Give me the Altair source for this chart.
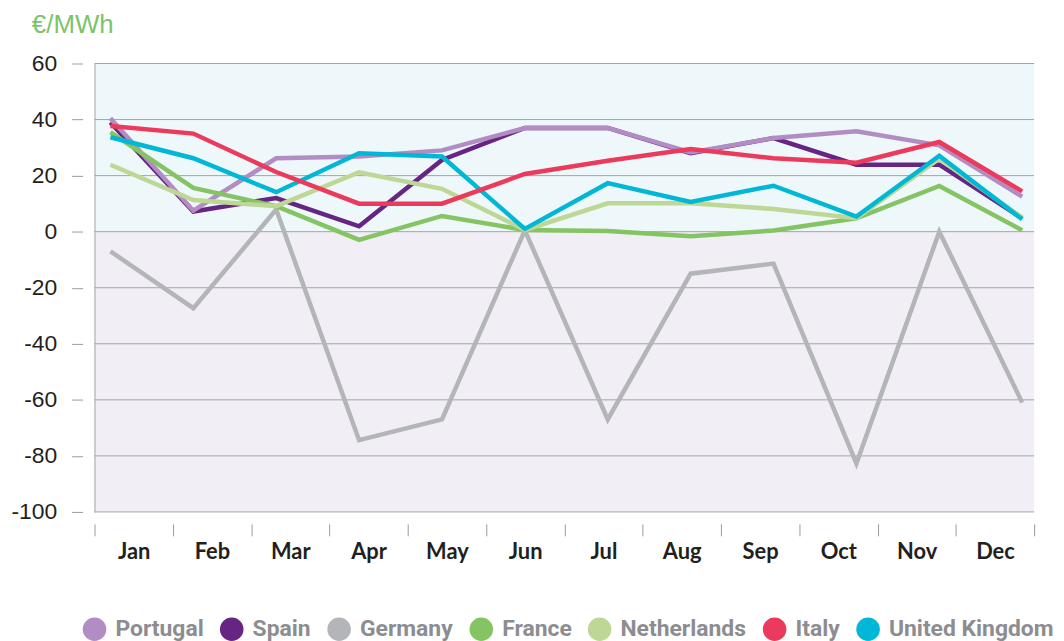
import altair as alt
import pandas as pd

months = ["Jan", "Feb", "Mar", "Apr", "May", "Jun", "Jul", "Aug", "Sep", "Oct", "Nov", "Dec"]
countries = ["Portugal", "Spain", "Germany", "France", "Netherlands", "Italy", "United Kingdom"]
colors = ["#b28dc4", "#662483", "#b3b5b8", "#85c462", "#bdd795", "#ec3a5c", "#00b8d6"]

portugal = [40.5, 7.5, 26.2, 26.8, 29.0, 37.0, 37.0, 28.3, 33.4, 35.8, 30.8, 12.5]
spain = [39.0, 7.2, 12.0, 1.9, 25.6, 37.0, 37.0, 28.0, 33.4, 23.9, 23.9, 4.8]
germany = [-7.0, -27.3, 7.9, -74.4, -67.0, 0.5, -67.0, -15.0, -11.4, -82.7, 0.0, -61.0]
france = [35.5, 15.6, 9.1, -2.9, 5.6, 0.6, 0.2, -1.6, 0.4, 4.8, 16.3, 0.5]
netherlands = [23.9, 11.3, 9.1, 21.2, 15.3, 0.6, 10.1, 10.1, 8.1, 4.8, 26.0, 5.0]
italy = [37.7, 35.0, 21.3, 10.0, 10.0, 20.6, 25.3, 29.5, 26.2, 24.6, 32.0, 14.4]
uk = [33.7, 26.2, 14.1, 28.0, 26.8, 1.0, 17.3, 10.6, 16.4, 5.4, 27.1, 4.4]

y_ticks = [60, 40, 20, 0, -20, -40, -60, -80, -100]
bands_lo = [0, -100]
bands_hi = [60, 0]
band_colors = ["#eef7fa", "#f1eff5"]

series = {
    "Portugal": portugal, "Spain": spain, "Germany": germany, "France": france,
    "Netherlands": netherlands, "Italy": italy, "United Kingdom": uk,
}
draw_order = ["Germany", "Spain", "Portugal", "France", "Netherlands", "United Kingdom", "Italy"]

W, H = 945, 451
YDOM = [-100, 60]
XDOM = [-0.192, 11.144]
GRID = "#a3a3a8"

bg_df = pd.DataFrame({"lo": bands_lo, "hi": bands_hi, "c": band_colors})
bg = alt.Chart(bg_df).mark_rect().encode(
    y=alt.Y("lo:Q", scale=alt.Scale(domain=YDOM, nice=False, zero=False),
            axis=alt.Axis(orient="left", offset=0, domain=True, domainColor=GRID, domainWidth=1,
                          ticks=False, labels=False, grid=False, title=None, zindex=1)),
    y2="hi:Q",
    fill=alt.Fill("c:N", scale=None),
)

grid_df = pd.DataFrame({"v": y_ticks})
grid = alt.Chart(grid_df).mark_rule(color=GRID, strokeWidth=1).encode(
    y=alt.Y("v:Q", scale=alt.Scale(domain=YDOM, nice=False, zero=False), axis=None)
)

month_df = pd.DataFrame({"m": months})
month_axis = alt.Chart(month_df).mark_point(opacity=0).encode(
    x=alt.X("m:O", sort=months,
            scale=alt.Scale(type="band", domain=months, paddingInner=0, paddingOuter=0),
            axis=alt.Axis(orient="bottom", offset=12, tickSize=12, tickColor="#9a9a9f", tickWidth=1,
                          domain=False, grid=False, labelPadding=6, labelFont="Lato",
                          labelFontWeight="bold", labelFontSize=22, labelColor="#231f20",
                          labelAngle=0, title=None, tickBand="extent")),
)

yaxis = alt.Axis(orient="left", offset=12, tickSize=11, tickColor="#9a9a9f", domain=False,
                 grid=False, values=y_ticks, labelFont="Liberation Sans", labelFontSize=23,
                 labelColor="#231f20", labelPadding=15, title=None,
                 labelExpr="'' + datum.value")

line_layers = []
for c in draw_order:
    df = pd.DataFrame({"x": list(range(12)), "v": series[c], "country": [c] * 12})
    line_layers.append(
        alt.Chart(df).mark_line(strokeWidth=4.5, strokeJoin="miter").encode(
            x=alt.X("x:Q", scale=alt.Scale(domain=XDOM, nice=False, zero=False), axis=None),
            y=alt.Y("v:Q", scale=alt.Scale(domain=YDOM, nice=False, zero=False), axis=yaxis),
            color=alt.Color("country:N", scale=alt.Scale(domain=countries, range=colors),
                            legend=None),
        )
    )
lines = alt.layer(*line_layers)

legend_df = pd.DataFrame({"country": countries})
legend_layer = alt.Chart(legend_df).mark_circle(opacity=0).encode(
    color=alt.Color("country:N", scale=alt.Scale(domain=countries, range=colors),
                    legend=alt.Legend(
                        title=None, orient="none", legendX=-12, legendY=557,
                        direction="horizontal", symbolType="circle", symbolSize=560,
                        symbolStrokeWidth=0, labelFont="Roboto", labelFontWeight="bold",
                        labelFontSize=23, labelColor="#8c8c91", labelOffset=9, labelLimit=400,
                        columnPadding=16, padding=0, symbolOpacity=1)),
)

chart = alt.layer(bg, grid, month_axis, lines, legend_layer).resolve_scale(
    x="independent", y="independent", color="independent"
).properties(
    width=W, height=H,
    autosize=alt.AutoSizeParams(type="none"),
    padding={"left": 87, "top": 54, "right": 22, "bottom": 132},
    title=alt.TitleParams(text="€/MWh", anchor="start", frame="group", dx=-63, offset=15,
                          fontSize=26, font="Liberation Sans", fontWeight="normal", color="#7dc36b"),
).configure_view(stroke=None)

chart.save("out.html", embed_options={"renderer": "svg", "actions": False})
